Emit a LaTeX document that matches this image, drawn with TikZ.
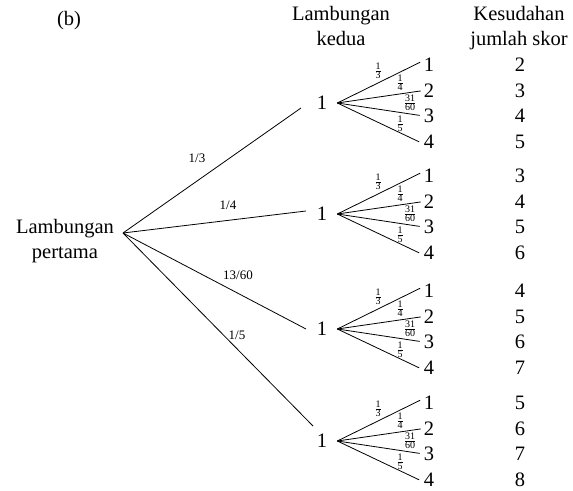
\documentclass[tikz,border=0pt]{standalone}
\usepackage{fontspec}
\setmainfont{Liberation Serif}
\newcommand\fq[2]{$\frac{\hbox{#1}}{\hbox{#2}}$}
\begin{document}
\begin{tikzpicture}[x=1pt,y=-1pt,
  big/.style={font=\fontsize{20.5}{25}\selectfont, inner sep=0pt},
  head/.style={big, align=center, anchor=north},
  wt/.style={font=\fontsize{13}{15}\selectfont, inner sep=0pt},
  fr/.style={font=\fontsize{10}{11}\selectfont, inner sep=0pt},
  mid/.style={big, inner xsep=10pt},
  edge/.style={line width=0.8pt}]
\useasboundingbox (0,0) rectangle (573,490);

% captions
\node[big] (tag) at (69,21) {(b)};
\node[head] (h2) at (341,6) {Lambungan\\kedua};
\node[head] (h3) at (519,6) {Kesudahan\\jumlah skor};
\node[head] (h1) at (65,219) {Lambungan\\pertama};

% first throw
\coordinate (r) at (123,233);
\coordinate (e1) at (301,108);
\coordinate (e2) at (306,211);
\coordinate (e3) at (306,329);
\coordinate (e4) at (313,426);
\foreach \k in {1,...,4} \draw[edge] (r) -- (e\k);
\node[wt] (w1) at (197,158) {1/3};
\node[wt] (w2) at (228,205) {1/4};
\node[wt] (w3) at (238,275) {13/60};
\node[wt] (w4) at (237,335) {1/5};

% second throw and total scores
\foreach \i/\g/\a/\b/\c/\d in {1/103/2/3/4/5, 2/214/3/4/5/6, 3/329/4/5/6/7, 4/441/5/6/7/8} {
  \node[mid] (n\i) at (322,\g) {1};
  \foreach \j/\o/\s in {1/-38.5/\a, 2/-12.5/\b, 3/13/\c, 4/39/\d} {
    \node[big] (c\i\j) at (429,{\g+(\o)}) {\j};
    \node[big] (s\i\j) at (520,{\g+(\o)}) {\s};
  }
  \draw[edge, shorten >=4pt] (n\i.east) -- ([yshift=4pt]c\i1.west);
  \draw[edge, shorten >=3pt] (n\i.east) -- (c\i2.west);
  \draw[edge, shorten >=4pt] (n\i.east) -- (c\i3.west);
  \draw[edge, shorten >=5pt] (n\i.east) -- ([yshift=-2pt]c\i4.west);
  \node[fr] (p\i1) at (378,{\g-32}) {\fq{1}{3}};
  \node[fr] (p\i2) at (400,{\g-20}) {\fq{1}{4}};
  \node[fr] (p\i3) at (410,{\g}) {\fq{31}{60}};
  \node[fr] (p\i4) at (400,{\g+21}) {\fq{1}{5}};
}
\end{tikzpicture}
\end{document}
